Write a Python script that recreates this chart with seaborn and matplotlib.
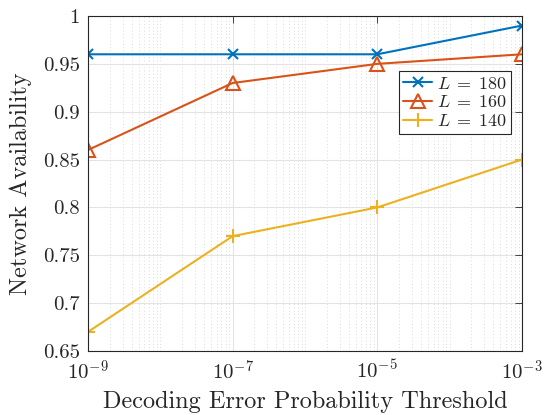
import numpy as np
import pandas as pd
import matplotlib
matplotlib.use("Agg")
import matplotlib.pyplot as plt
import seaborn as sns
from matplotlib.ticker import FixedLocator, FixedFormatter, LogLocator, NullFormatter

thresholds = [1e-9, 1e-7, 1e-5, 1e-3]
avail_180 = [0.96, 0.96, 0.96, 0.99]
avail_160 = [0.86, 0.93, 0.95, 0.96]
avail_140 = [0.67, 0.77, 0.80, 0.85]
series_labels = [r"$L\;=\;180$", r"$L\;=\;160$", r"$L\;=\;140$"]
xtick_labels = ["$10^{-9}$", "$10^{-7}$", "$10^{-5}$", "$10^{-3}$"]
ytick_vals = [0.65, 0.7, 0.75, 0.8, 0.85, 0.9, 0.95, 1.0]
ytick_labels = ["0.65", "0.7", "0.75", "0.8", "0.85", "0.9", "0.95", "1"]

sns.set_style("white")
plt.rcParams["font.family"] = "serif"
plt.rcParams["font.serif"] = ["cmr10"]
plt.rcParams["mathtext.fontset"] = "cm"
plt.rcParams["axes.formatter.use_mathtext"] = True

df = pd.DataFrame({
    "x": thresholds * 3,
    "y": avail_180 + avail_160 + avail_140,
    "series": [series_labels[0]] * 4 + [series_labels[1]] * 4 + [series_labels[2]] * 4,
})

fig = plt.figure(figsize=(5.45, 4.15), dpi=100)
ax = fig.add_axes([88 / 545, 1 - 351 / 415, 434 / 545, 335 / 415])

colors = ["#0072BD", "#D95319", "#EDB120"]
markers = ["x", "^", "+"]
msizes = [7, 10, 10]
for lab, c, m, ms in zip(series_labels, colors, markers, msizes):
    sub = df[df["series"] == lab]
    kw = dict(marker=m, markersize=ms, markeredgewidth=1.5, markeredgecolor=c)
    if m == "^":
        kw["markerfacecolor"] = "none"
    sns.lineplot(data=sub, x="x", y="y", ax=ax, color=c, linewidth=1.5,
                 label=lab, **kw)

ax.set_xscale("log")
ax.set_xlim(1e-9, 1e-3)
ax.set_ylim(0.65, 1.0)
ax.xaxis.set_major_locator(FixedLocator(thresholds))
ax.xaxis.set_major_formatter(FixedFormatter(xtick_labels))
ax.xaxis.set_minor_locator(LogLocator(base=10, subs=np.arange(1, 10), numticks=100))
ax.xaxis.set_minor_formatter(NullFormatter())
ax.yaxis.set_major_locator(FixedLocator(ytick_vals))
ax.yaxis.set_major_formatter(FixedFormatter(ytick_labels))

ax.grid(True, which="major", color="#e3e3e3", linewidth=0.8, linestyle="-")
ax.grid(True, which="minor", axis="x", color="#cfcfcf", linewidth=0.6, linestyle=(0, (1, 3)))
ax.set_axisbelow(True)

ax.tick_params(axis="both", which="major", direction="in", length=5, width=0.6,
               labelsize=15, colors="#262626", top=True, right=True, pad=6)
ax.tick_params(axis="x", which="minor", length=0)
for s in ax.spines.values():
    s.set_color("#262626")
    s.set_linewidth(0.8)

ax.set_xlabel("Decoding Error Probability Threshold", fontsize=17.5, color="#262626", labelpad=5)
ax.set_ylabel("Network Availability", fontsize=17.5, color="#262626", labelpad=8)

leg = ax.legend(loc="upper right", bbox_to_anchor=(0.975, 0.835), fontsize=13,
                frameon=True, fancybox=False, framealpha=1, edgecolor="#262626",
                handlelength=1.6, borderpad=0.25, labelspacing=0.15, handletextpad=0.25,
                borderaxespad=0)
leg.get_frame().set_linewidth(0.8)

fig.savefig("out.png", dpi=100)
